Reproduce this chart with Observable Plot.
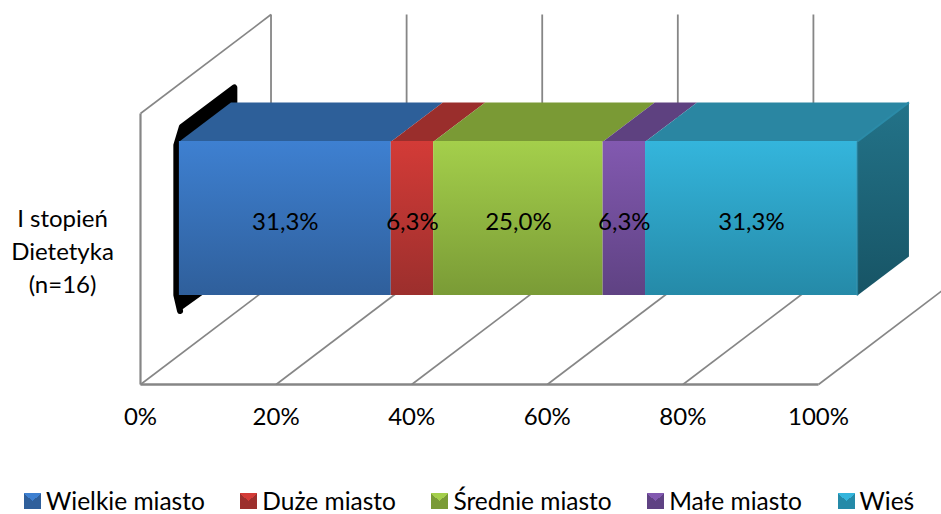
<!DOCTYPE html>
<html><head><meta charset="utf-8">
<script src="https://cdn.jsdelivr.net/npm/d3@7"></script>
<script src="https://cdn.jsdelivr.net/npm/@observablehq/plot@0.6"></script>
<style>
html,body{margin:0;padding:0;background:#fff;overflow:hidden}
#chart svg{display:block;overflow:hidden;background:#fff}
#legend{display:flex;height:26px;padding-left:24px;font:24.5px/24px Lato,sans-serif;color:#000;align-items:center}
#legend .item{display:flex;align-items:center;margin-right:35.5px;white-space:nowrap}
#legend i{display:block;width:17px;height:16px;margin-right:5px;box-sizing:border-box}
</style></head><body>
<div id="chart"></div>
<div id="legend"></div>
<script>
// Data
const category = "I stopień\nDietetyka\n(n=16)";
const series = ["Wielkie miasto","Duże miasto","Średnie miasto","Małe miasto","Wieś"];
const values = [31.25,6.25,25,6.25,31.25];
const ticks = [0,20,40,60,80,100];
// Colours
const frontTop = ["#3e80d1","#d33b37","#a4cf4b","#8259b0","#34b5dc"];
const frontBottom = ["#2f5f9b","#9c2f2d","#7a9b36","#5f4283","#258aa8"];
const topFace = ["#2d5f99","#9a2e2c","#7a9a35","#5e4180","#2a86a2"];
const sideTop = "#237389", sideBottom = "#175465";
const grid = "#868686";
// Oblique depth projection, in scale units
const depthX = 19.25, depthY = 99;
const d0 = 0.298, d1 = 0.693, hLow = 59.5, hHigh = 213.5, wall = 271;
const P = (v,h,d) => ({x:v+d*depthX, y:h+d*depthY});
let acc = 0;
const rows = values.map((v,i)=>{const r={i,name:series[i],v,a:acc,b:acc+v};acc+=v;return r;});
const poly = (pts,o) => Plot.line(pts,{x:"x",y:"y",stroke:"none",...o});

const defs = () => {
  const s = d3.create("svg:defs");
  rows.forEach(r=>{
    const g = s.append("linearGradient").attr("id","g"+r.i).attr("x1",0).attr("x2",0).attr("y1",0).attr("y2",1);
    g.append("stop").attr("offset","0").attr("stop-color",frontTop[r.i]);
    g.append("stop").attr("offset","1").attr("stop-color",frontBottom[r.i]);
  });
  const g = s.append("linearGradient").attr("id","side").attr("x1",0).attr("x2",0).attr("y1",0).attr("y2",1);
  g.append("stop").attr("offset","0").attr("stop-color",sideTop);
  g.append("stop").attr("offset","1").attr("stop-color",sideBottom);
  return s.node();
};

const plot = Plot.plot({
  width:941, height:488, marginTop:0, marginLeft:0, marginRight:0, marginBottom:104,
  x:{domain:[0,100],range:[140,818],axis:null},
  y:{domain:[0,384],range:[384,0],axis:null},
  style:{fontFamily:"Lato, sans-serif",fontSize:"24px",color:"#000",background:"#fff"},
  marks:[
    defs,
    // floor and back-wall grid
    Plot.link(ticks,{x1:d=>d,y1:()=>0,x2:d=>d+depthX,y2:()=>depthY,stroke:grid,strokeWidth:1.6}),
    Plot.link(ticks,{x1:d=>d+depthX,y1:()=>depthY,x2:d=>d+depthX,y2:()=>wall+depthY,stroke:grid,strokeWidth:1.8}),
    Plot.link([0],{x1:d=>d,y1:()=>wall,x2:d=>d+depthX,y2:()=>wall+depthY,stroke:grid,strokeWidth:1.6}),
    Plot.link([0],{x1:d=>d,y1:()=>0,x2:d=>d,y2:()=>wall,stroke:grid,strokeWidth:2.2}),
    Plot.link([0],{x1:()=>0,y1:()=>0,x2:()=>100,y2:()=>0,stroke:grid,strokeWidth:2.4}),
    // black left side of the bar
    poly([P(0.1,44,d0),P(-0.45,60,d0),P(-0.45,210,d0),P(0.35,228,d0),P(0.5,228.4,d1),P(0.5,44,d1)],{fill:"#000",stroke:"#000",strokeWidth:6,strokeLinejoin:"round"}),
    // top faces
    ...rows.map(r=>poly([P(r.a,hHigh,d0),P(r.b,hHigh,d0),P(r.b,hHigh,d1),P(r.a,hHigh,d1)],{fill:topFace[r.i]})),
    // right face
    poly([P(100,hLow,d0),P(100,hHigh,d0),P(100,hHigh,d1),P(100,hLow,d1)],{fill:"url(#side)"}),
    // front faces
    ...rows.map(r=>Plot.rect([r],{x1:d=>d.a+d0*depthX,x2:d=>d.b+d0*depthX,y1:()=>hLow+d0*depthY,y2:()=>hHigh+d0*depthY,fill:`url(#g${r.i})`})),
    // bevel edges of the last segment
    Plot.link([100],{x1:d=>d+d0*depthX,y1:()=>hHigh+d0*depthY,x2:d=>d+d1*depthX,y2:()=>hHigh+d1*depthY,stroke:"#2b8ba8",strokeWidth:2}),
    Plot.link([100],{x1:d=>d+d0*depthX,y1:()=>hLow+d0*depthY,x2:d=>d+d0*depthX,y2:()=>hHigh+d0*depthY,stroke:"#25809c",strokeWidth:1.5}),
    // labels
    Plot.text(rows,{x:d=>(d.a+d.b)/2+d0*depthX,y:()=>162,text:d=>d.v.toFixed(1).replace(".",",")+"%",fill:"#000"}),
    Plot.text([category],{x:()=>-11.5,y:()=>135,text:d=>d,lineHeight:1.36,fill:"#000"}),
    Plot.axisX({ticks,tickFormat:d=>d+"%",tickSize:0,tickPadding:23,anchor:"bottom",label:null})
  ]
});
document.getElementById("chart").append(plot);

const lg = d3.select("#legend");
rows.forEach(r=>{
  const it = lg.append("div").attr("class","item");
  it.append("i").style("background",`conic-gradient(from -50deg, ${frontTop[r.i]} 0 100deg, ${frontBottom[r.i]} 100deg 260deg, ${frontBottom[r.i]} 260deg)`);
  it.append("span").text(r.name);
});
</script>
</body></html>
